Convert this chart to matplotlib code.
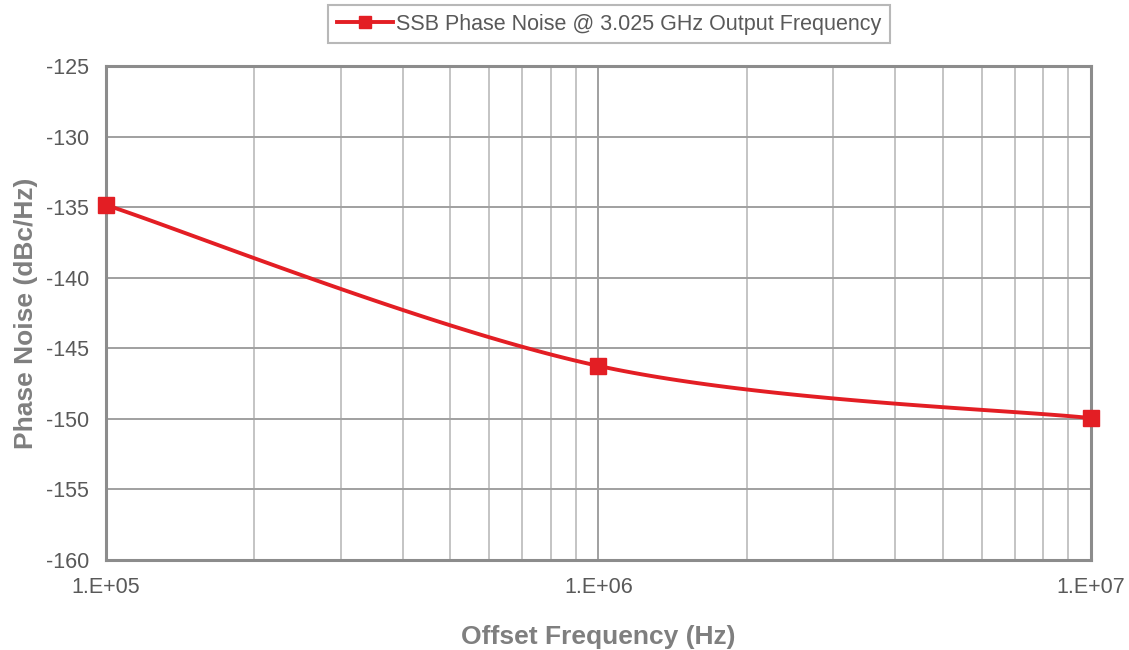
import numpy as np
import matplotlib.pyplot as plt
from matplotlib.ticker import FixedLocator, LogLocator, NullFormatter

# data
offset_hz = [1e5, 1e6, 1e7]
phase_noise = [-134.85, -146.25, -149.95]
series_name = 'SSB Phase Noise @ 3.025 GHz Output Frequency'
x_ticks = [1e5, 1e6, 1e7]
x_tick_labels = ['1.E+05', '1.E+06', '1.E+07']
y_ticks = [-160, -155, -150, -145, -140, -135, -130, -125]

plt.rcParams['font.family'] = ['Liberation Sans', 'DejaVu Sans']
plt.rcParams['axes.unicode_minus'] = False

red = '#e31e24'
txt = '#595959'

fig = plt.figure(figsize=(11.29, 6.5), dpi=100)
ax = fig.add_axes([0.0939, 0.1385, 0.8724, 0.76])
ax.set_xscale('log')
ax.set_xlim(1e5, 1e7)
ax.set_ylim(-160, -125)

# Excel-style smoothed line (Bezier through points, in log-x space)
lx = np.log10(offset_hz)
py = np.array(phase_noise)
pts = np.column_stack([lx, py])
sx, sy = 1 / 2.0, 1 / 35.0
P = pts * [sx, sy]
curve = []
n = len(P)
for i in range(n - 1):
    p0 = P[i - 1] if i > 0 else P[i]
    p1 = P[i]
    p2 = P[i + 1]
    p3 = P[i + 2] if i + 2 < n else P[i + 1]
    c1 = p1 + (p2 - p0) / 6
    c2 = p2 - (p3 - p1) / 6
    t = np.linspace(0, 1, 60)[:, None]
    seg = (1 - t) ** 3 * p1 + 3 * (1 - t) ** 2 * t * c1 + 3 * (1 - t) * t ** 2 * c2 + t ** 3 * p2
    curve.append(seg)
curve = np.vstack(curve) / [sx, sy]
ax.plot(10 ** curve[:, 0], curve[:, 1], color=red, lw=2.8, zorder=3, clip_on=False)
ax.plot(offset_hz, phase_noise, ls='none', marker='s', ms=12, color=red, zorder=4, clip_on=False)

# legend proxy
ax.plot([], [], color=red, lw=2.8, marker='s', ms=8, label=series_name)
leg = ax.legend(loc='upper center', bbox_to_anchor=(609 / 1129, 1 - 5 / 650),
                bbox_transform=fig.transFigure, frameon=True, fancybox=False,
                fontsize=15.5, handlelength=2.6, handletextpad=0.15, borderpad=0.4,
                borderaxespad=0, labelcolor=txt)
leg.get_frame().set_edgecolor('#a6a6a6')
leg.get_frame().set_linewidth(1.5)

ax.xaxis.set_major_locator(FixedLocator(x_ticks))
ax.set_xticklabels(x_tick_labels)
ax.xaxis.set_minor_locator(LogLocator(base=10, subs=np.arange(2, 10)))
ax.xaxis.set_minor_formatter(NullFormatter())
ax.set_yticks(y_ticks)

ax.grid(which='major', color='#a0a0a0', lw=1.4)
ax.grid(which='minor', axis='x', color='#c4c4c4', lw=1.4)
ax.set_axisbelow(True)

for s in ax.spines.values():
    s.set_color('#8c8c8c')
    s.set_linewidth(2.2)

ax.tick_params(which='both', length=0, labelsize=15.5, labelcolor=txt)
ax.tick_params(axis='x', pad=12)
ax.tick_params(axis='y', pad=12)

ax.set_xlabel('Offset Frequency (Hz)', fontsize=19, fontweight='bold', color='#7f7f7f', labelpad=20)
ax.set_ylabel('Phase Noise (dBc/Hz)', fontsize=19, fontweight='bold', color='#7f7f7f', labelpad=6)

fig.savefig('out.png', dpi=100)
